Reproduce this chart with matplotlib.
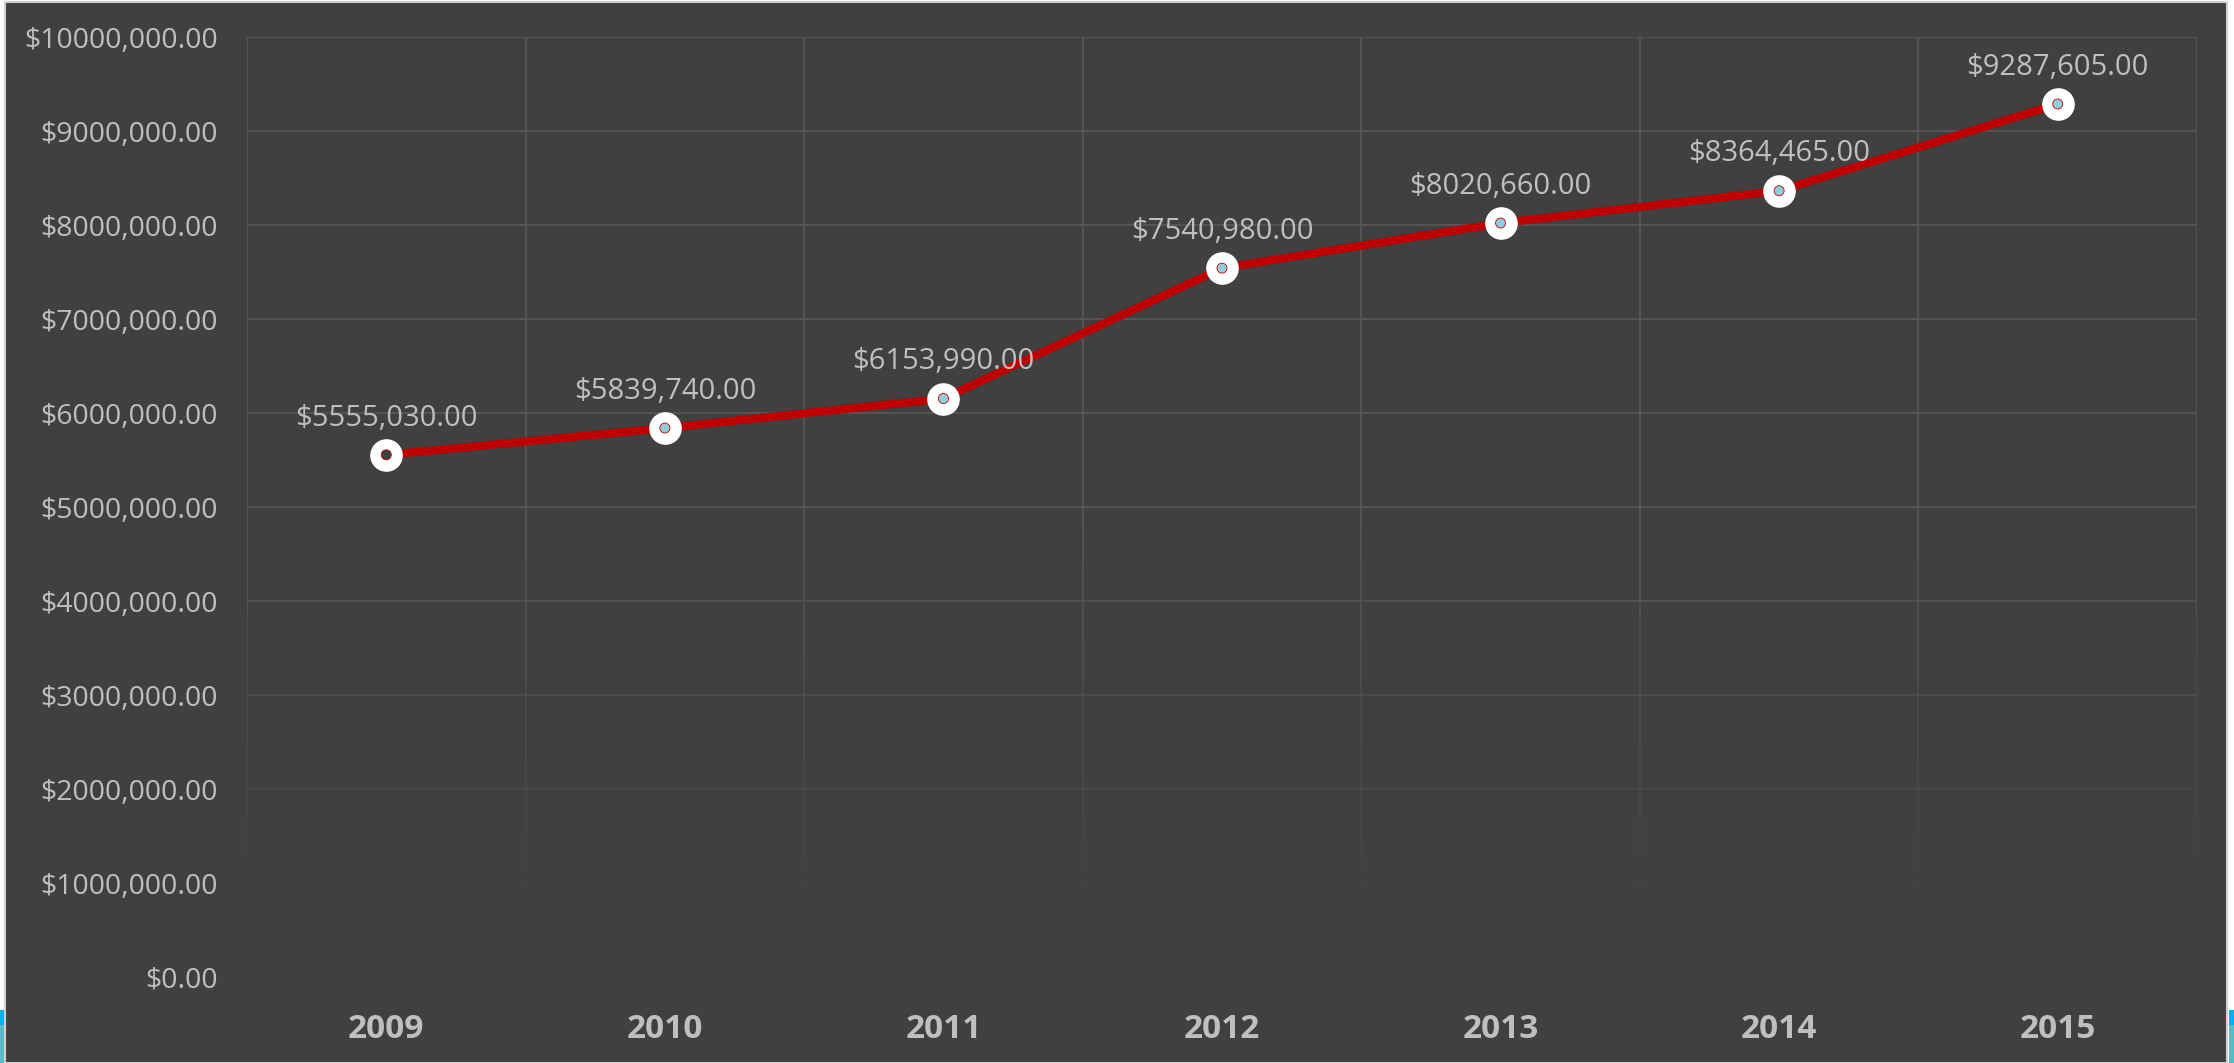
import matplotlib.pyplot as plt
import numpy as np
from matplotlib.collections import LineCollection
from matplotlib.patches import Rectangle

years = ['2009', '2010', '2011', '2012', '2013', '2014', '2015']
values = [5555030, 5839740, 6153990, 7540980, 8020660, 8364465, 9287605]
y_ticks = [0, 1000000, 2000000, 3000000, 4000000, 5000000,
           6000000, 7000000, 8000000, 9000000, 10000000]
y_tick_labels = ['$0.00', '$1000,000.00', '$2000,000.00', '$3000,000.00',
                 '$4000,000.00', '$5000,000.00', '$6000,000.00',
                 '$7000,000.00', '$8000,000.00', '$9000,000.00',
                 '$10000,000.00']
point_labels = ['$5555,030.00', '$5839,740.00', '$6153,990.00', '$7540,980.00',
                '$8020,660.00', '$8364,465.00', '$9287,605.00']
inner_colors = ['#404040', '#92CDDC', '#92CDDC', '#92CDDC',
                '#92CDDC', '#92CDDC', '#92CDDC']

bg = '#404040'
grid_c = '#575757'
txt = '#BFBFBF'
plt.rcParams['font.family'] = ['Open Sans', 'DejaVu Sans']

fig = plt.figure(figsize=(22.34, 10.63), dpi=100, facecolor='white')
# dark chart panel with thin light border
fig.patches.append(Rectangle((5 / 2234, 0), 2222 / 2234, 1 - 2 / 1063,
                             transform=fig.transFigure, facecolor=bg,
                             edgecolor='#D0D0D0', linewidth=1.5, zorder=-5))
# blue strips peeking out at the sides
for x0, w in [(0, 5), (2229, 5)]:
    fig.patches.append(Rectangle((x0 / 2234, 38 / 1063), w / 2234, 15 / 1063,
                                 transform=fig.transFigure, facecolor='#00B0F0',
                                 edgecolor='none', zorder=-6))
    fig.patches.append(Rectangle((x0 / 2234, 0), w / 2234, 38 / 1063,
                                 transform=fig.transFigure, facecolor='#5BBAC8',
                                 edgecolor='none', zorder=-6))

ax = fig.add_axes([247 / 2234, 1 - 977 / 1063, 1950 / 2234, 940 / 1063])
ax.set_facecolor(bg)
for s in ax.spines.values():
    s.set_visible(False)

x = np.arange(len(years))
ax.set_xlim(-0.5, len(years) - 0.5)
ax.set_ylim(0, 10000000)


def fade(v):
    # gridlines fade out towards the bottom of the plot
    return float(np.clip((v - 700000) / 4300000, 0, 1))


for v in y_ticks:
    ax.axhline(v, color=grid_c, lw=1.3, alpha=fade(v), zorder=0)

ys = np.linspace(0, 10000000, 101)
segs, alphas = [], []
for b in np.arange(-0.5, len(years), 1.0):
    for y0, y1 in zip(ys[:-1], ys[1:]):
        segs.append([(b, y0), (b, y1)])
        alphas.append(fade((y0 + y1) / 2))
cols = [(0x57 / 255, 0x57 / 255, 0x57 / 255, a) for a in alphas]
ax.add_collection(LineCollection(segs, colors=cols, linewidths=1.3, zorder=0))

ax.plot(x, values, color='#C00000', lw=5.8, solid_capstyle='round', zorder=3)
ax.scatter(x, values, s=23.5 ** 2, color='white', zorder=4, linewidths=0)
ax.scatter(x, values, s=7.2 ** 2, c=inner_colors, edgecolors='#C00000',
           linewidths=0.6, zorder=5)

for xi, v, lab in zip(x, values, point_labels):
    ax.annotate(lab, (xi, v), xytext=(0, 26.5), textcoords='offset points',
                ha='center', va='center', color=txt, fontsize=21)

ax.set_xticks(x)
ax.set_xticklabels(years, fontsize=24, fontweight='bold', color=txt)
ax.set_yticks(y_ticks)
ax.set_yticklabels(y_tick_labels, fontsize=20.5, color=txt)
ax.tick_params(axis='x', length=0, pad=26)
ax.tick_params(axis='y', length=0, pad=21)

fig.savefig('out.png', dpi=100)
